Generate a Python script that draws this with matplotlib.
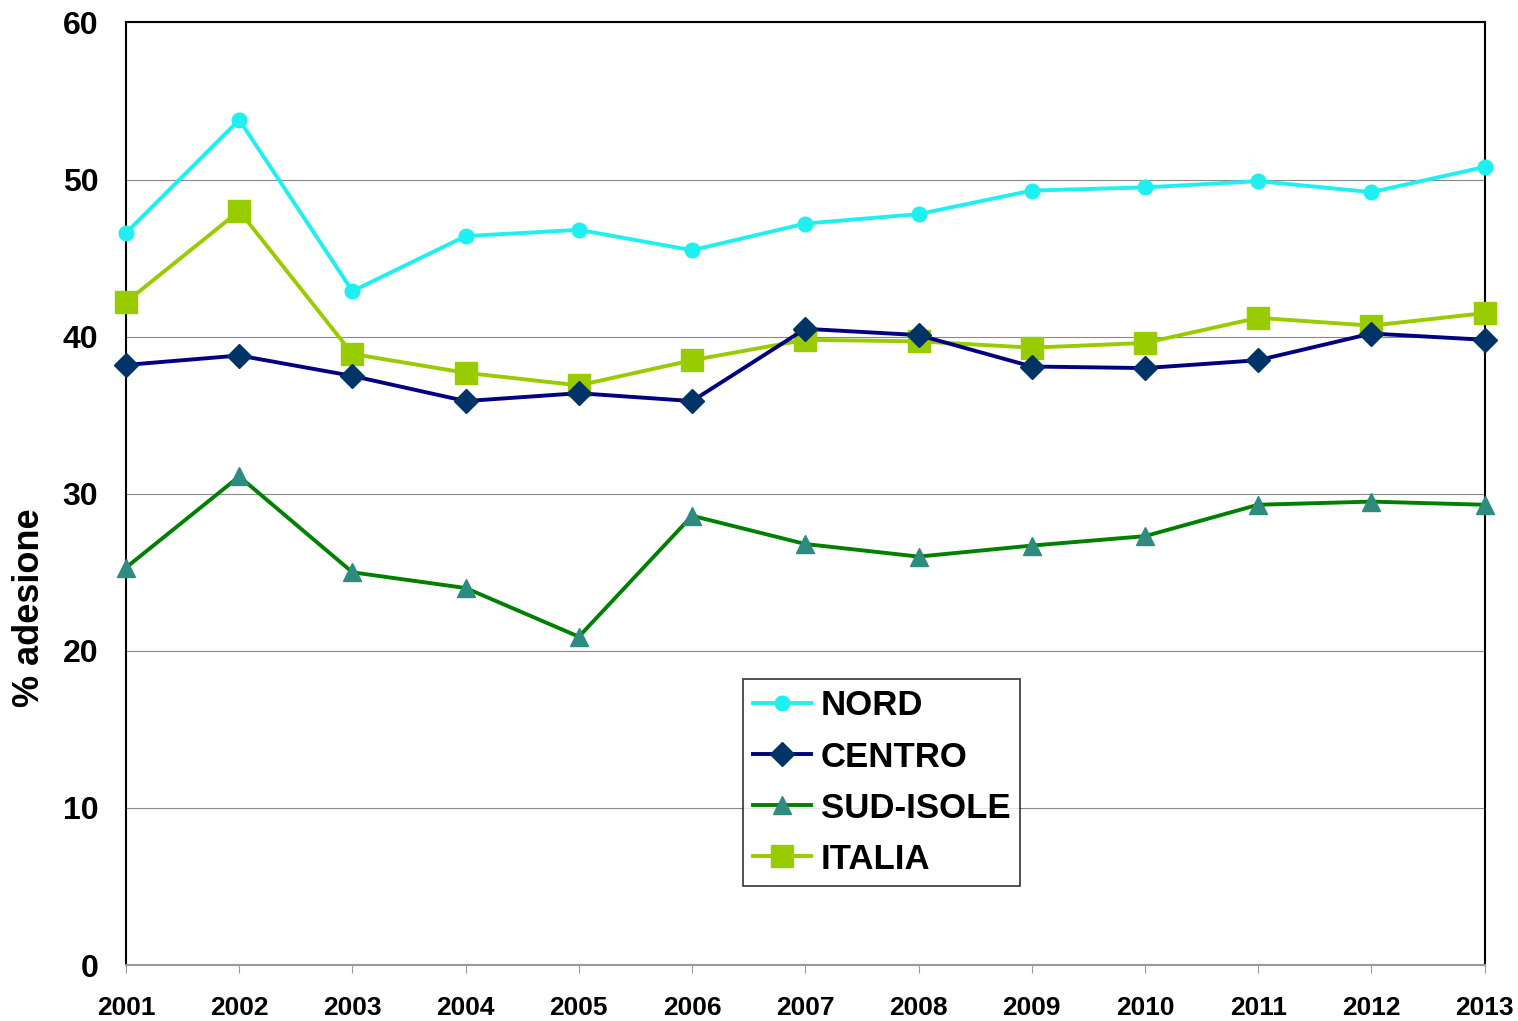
import matplotlib
matplotlib.use("Agg")
import matplotlib.pyplot as plt

years = ["2001", "2002", "2003", "2004", "2005", "2006", "2007", "2008", "2009", "2010", "2011", "2012", "2013"]
nord = [46.6, 53.8, 42.9, 46.4, 46.8, 45.5, 47.2, 47.8, 49.3, 49.5, 49.9, 49.2, 50.8]
centro = [38.2, 38.8, 37.5, 35.9, 36.4, 35.9, 40.5, 40.1, 38.1, 38.0, 38.5, 40.2, 39.8]
sud_isole = [25.3, 31.1, 25.0, 24.0, 20.9, 28.6, 26.8, 26.0, 26.7, 27.3, 29.3, 29.5, 29.3]
italia = [42.2, 48.0, 38.9, 37.7, 36.9, 38.5, 39.8, 39.7, 39.3, 39.6, 41.2, 40.7, 41.5]
yticks = [0, 10, 20, 30, 40, 50, 60]

plt.rcParams['font.family'] = ['Liberation Sans', 'DejaVu Sans']
plt.rcParams['font.weight'] = 'bold'

fig = plt.figure(figsize=(15.18, 10.21), dpi=100)
ax = fig.add_axes([0.083, 0.0548, 0.895, 0.9232])

x = list(range(len(years)))
lw = 2.8
ax.plot(x, nord, color='#1EF0F0', lw=lw, marker='o', ms=10.5, mfc='#1EF0F0', mec='#1EF0F0', label='NORD', zorder=3, clip_on=False)
ax.plot(x, centro, color='#000080', lw=lw, marker='D', ms=12, mfc='#003366', mec='#003366', label='CENTRO', zorder=4, clip_on=False)
ax.plot(x, sud_isole, color='#008000', lw=lw, marker='^', ms=13, mfc='#2E8B80', mec='#2E8B80', label='SUD-ISOLE', zorder=3, clip_on=False)
ax.plot(x, italia, color='#99CC00', lw=lw, marker='s', ms=15.5, mfc='#99CC00', mec='#99CC00', label='ITALIA', zorder=3, clip_on=False)

ax.set_xlim(0, len(years) - 1)
ax.set_ylim(0, 60)
ax.set_yticks(yticks)
ax.set_yticklabels([str(v) for v in yticks], fontsize=23, fontweight='bold')
ax.set_xticks(x)
ax.set_xticklabels(years, fontsize=19, fontweight='bold')
ax.tick_params(axis='x', direction='out', length=6, color='#999999', pad=16)
ax.tick_params(axis='y', length=0, pad=20)

ax.grid(axis='y', color='#888888', lw=0.8)
ax.set_axisbelow(True)
for s in ['left', 'top', 'right']:
    ax.spines[s].set_color('black')
    ax.spines[s].set_linewidth(1.5)
ax.spines['bottom'].set_color('#999999')
ax.spines['bottom'].set_linewidth(1.5)

fig.text(30 / 1518, 1 - 608 / 1021, '% adesione', rotation=90, ha='center', va='center',
         fontsize=26, fontweight='bold')

leg = ax.legend(loc='lower left', bbox_to_anchor=(0.454, 0.0838, 0.204, 0.217), mode='expand',
                fontsize=25, frameon=True, fancybox=False, edgecolor='black', handlelength=1.65,
                handletextpad=0.3, borderpad=0.3, labelspacing=0.52, borderaxespad=0)
leg.get_frame().set_linewidth(1.2)
for t in leg.get_texts():
    t.set_fontweight('bold')

fig.savefig('out.png', dpi=100, facecolor='white')
